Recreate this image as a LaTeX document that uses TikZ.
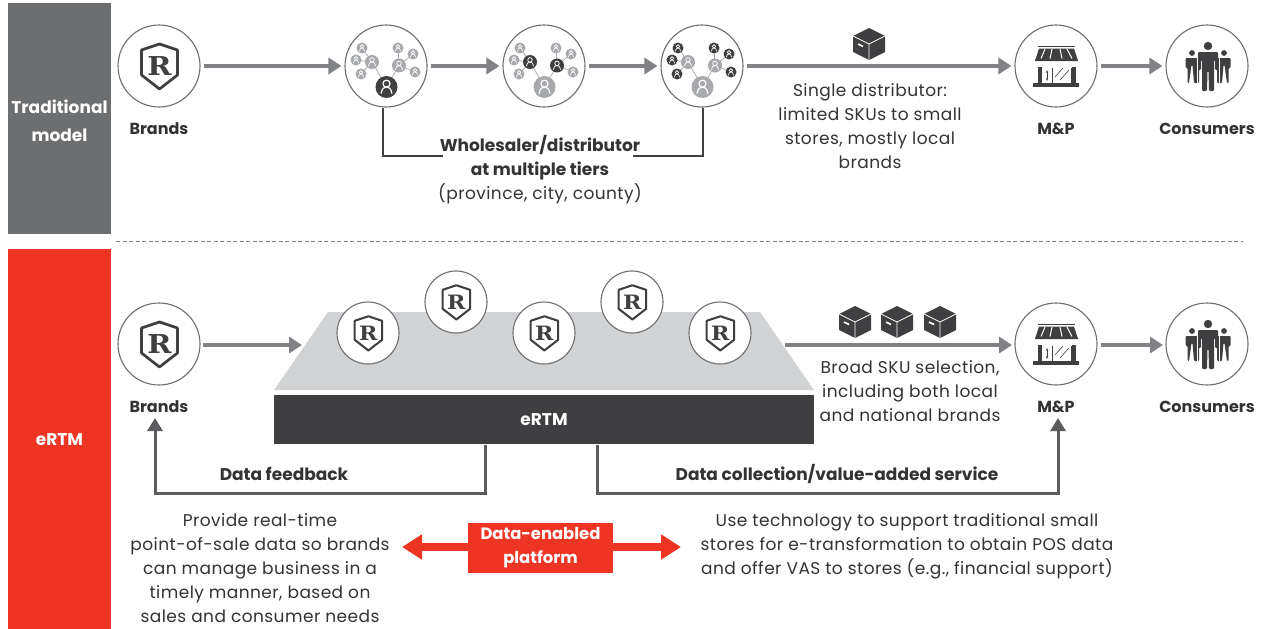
\documentclass[tikz,border=0pt]{standalone}
\usepackage{fontspec}
\setmainfont{Poppins}
\newfontfamily\rlogo{DejaVu Serif}
\newfontfamily\bodyfont[LetterSpace=2.6]{Poppins}
\usetikzlibrary{arrows.meta}
\definecolor{bandgrey}{HTML}{6D6E70}
\definecolor{bandred}{HTML}{EE3524}
\definecolor{arrowgrey}{HTML}{808285}
\definecolor{ink}{HTML}{3F3F41}
\definecolor{lightg}{HTML}{A7A9AC}
\definecolor{platg}{HTML}{D1D3D4}
\definecolor{txt}{HTML}{333335}
\tikzset{
  x=1pt,y=-1pt,
  band/.style={draw=none,fill=#1,minimum width=103pt,text=white,font=\fontsize{17}{28}\selectfont\bfseries,align=center,inner sep=0pt},
  ring/.style={circle,draw=arrowgrey!85!black,line width=1.1pt,fill=white,inner sep=0pt,minimum size=#1},
  flow/.style={draw=arrowgrey,line width=3.6pt,-{Triangle[length=13pt,width=16pt]}},
  feed/.style={draw=ink!85,line width=3pt,-{Triangle[length=13pt,width=15pt]}},
  brack/.style={draw=ink,line width=1.1pt},
  head/.style={font=\fontsize{17}{24}\selectfont\bfseries,text=txt,inner sep=0pt,align=center},
  lab/.style={font=\fontsize{16}{24}\selectfont\bfseries,text=txt,inner sep=0pt,align=center},
  body/.style={font=\bodyfont\fontsize{17}{24}\selectfont,text=txt,inner sep=0pt,align=center},
}
% shield logo: centre x, y, scale
\newcommand{\shieldlogo}[3]{%
  \begin{scope}[shift={(#1,#2)},scale=#3,transform shape]
    \draw[ink,line width=#3*2.7pt,line join=round,fill=white]
      (.5,-22)--(18.5,-16)--(18.5,9)--(.5,23)--(-17.5,9)--(-17.5,-16)--cycle;
    \node[inner sep=0pt,text=ink,xscale=1.12,font=\rlogo\bfseries\fontsize{26}{26}\selectfont] at (.5,0) {R};
  \end{scope}}
% small person in a network bubble
\newcommand{\bub}[4]{%
  \fill[#4] (#1,#2) circle[radius=#3];
  \begin{scope}[shift={(#1,#2)},scale=#3/10]
    \draw[white,line width=#3*0.11pt] (0,-3) circle[radius=3.2];
    \draw[white,line width=#3*0.11pt] (-5,6) .. controls (-4,1) and (-2,0) .. (0,0) .. controls (2,0) and (4,1) .. (5,6);
  \end{scope}}
% network icon: cx, cy, big, mid, small colours
\newcommand{\neticon}[5]{%
  \begin{scope}[shift={(#1,#2)}]
    \draw[lightg,line width=.7pt] (.5,21)--(-14,-4) (.5,21)--(13,-.5)
      (-14,-4)--(-24,-18) (-14,-4)--(-30,-6) (-14,-4)--(-25,8)
      (13,-.5)--(12,-18) (13,-.5)--(27,-12) (13,-.5)--(29,6);
    \bub{.5}{21}{11}{#3}
    \bub{-14}{-4}{7}{#4}\bub{13}{-.5}{7}{#4}
    \bub{-24}{-18}{5.5}{#5}\bub{-30}{-6}{5.5}{#5}\bub{-25}{8}{5.5}{#5}
    \bub{12}{-18}{5.5}{#5}\bub{27}{-12}{5.5}{#5}\bub{29}{6}{5.5}{#5}
  \end{scope}}
% carton icon
\newcommand{\cartonicon}[2]{%
  \begin{scope}[shift={(#1,#2)}]
    \fill[ink,line join=round] (0,-16)--(16,-8)--(16,8)--(0,16)--(-16,8)--(-16,-8)--cycle;
    \draw[white,line width=.8pt] (-16,-8)--(0,0)--(16,-8) (0,0)--(0,16);
    \draw[white,line width=1.6pt] (-11,0)--(-6,2.5);
  \end{scope}}
% store icon
\newcommand{\storeicon}[2]{%
  \begin{scope}[shift={(#1,#2)}]
    \draw[ink,line width=1.3pt] (-18,-19.5)--(19,-19.5);
    \fill[ink] (-17,-17.5)--(18,-17.5)--(22,-5)--(-21,-5)--cycle;
    \foreach \a in {-21,-12.4,-3.8,4.8,13.4}{\fill[ink] (\a,-5.2) arc[start angle=180,end angle=360,radius=4.3] --cycle;}
    \foreach \a/\b in {-11/-15,-4/-6,4/6,11/16}{\draw[white,line width=1pt] (\a,-17)--(\b,-7.5);}
    \draw[ink,line width=3.6pt] (-16,1)--(-16,18) (18,1)--(18,18);
    \draw[ink,line width=1pt] (-4,2)--(-4,18) (15,2)--(15,18);
    \draw[ink,line width=.9pt,{Stealth[length=3pt]}-{Stealth[length=3pt]}] (-9,4)--(-9,15);
    \draw[ink,line width=.6pt] (-1,11)--(7,2) (4,14)--(13,4);
    \fill[ink] (-23,17) rectangle (23,21);
  \end{scope}}
% people icon
\newcommand{\peopleicon}[2]{%
  \begin{scope}[shift={(#1+1,#2)}]
    \foreach \s in {-1,1}{
      \fill[ink] (\s*16,-13) circle[radius=2.9];
      \fill[ink,rounded corners=1pt] (\s*22.5,-8)--(\s*9,-8)--(\s*9,17)--(\s*14,17)--(\s*15.5,-1)--(\s*16.5,-1)--(\s*19,17)--(\s*20.5,17)--(\s*20.5,2)--(\s*22.5,2)--cycle;
    }
    \draw[white,line width=1pt] (-11,-10)--(-11,18) (11,-10)--(11,18);
    \fill[ink] (0,-20) circle[radius=4.2];
    \fill[ink,rounded corners=1.2pt] (-10,-14)--(10,-14)--(10,4)--(7,4)--(7,-6)--(6,-6)--(6,25)--(1,25)--(.5,5)--(-.5,5)--(-1,25)--(-6,25)--(-6,-6)--(-7,-6)--(-7,4)--(-10,4)--cycle;
  \end{scope}}
\begin{document}
\begin{tikzpicture}
\useasboundingbox (0,0) rectangle (1264,629);
\fill[white] (0,0) rectangle (1264,629);
% bands
\node[band=bandgrey,minimum height=231pt] (tradband) at (59.5,118.5) {};
\node[band=bandred,minimum height=380pt] (ertmband) at (59.5,439) {};
\node[inner sep=0pt,text=white,font=\fontsize{17}{24}\selectfont\bfseries] (ertmlabel) at (59.5,440) {eRTM};
\node[inner sep=0pt,text=white,align=center,font=\fontsize{17}{28}\selectfont\bfseries] (tradlabel) at (59.5,121) {Traditional\\model};
\coordinate (dashl) at (116,241.5); \coordinate (dashr) at (1243,241.5);
\draw[arrowgrey,line width=.7pt,dash pattern=on 4pt off 2.5pt] (dashl)--(dashr);
% top row
\node[ring=82pt] (brandA) at (159,66) {};
\node[ring=82pt] (netA) at (386,66) {};
\node[ring=82pt] (netB) at (544,66) {};
\node[ring=82pt] (netC) at (702,66) {};
\node[ring=82pt] (mpA) at (1056,66) {};
\node[ring=82pt] (conA) at (1207,66) {};
\shieldlogo{159}{66}{1}
\neticon{386}{66}{ink}{lightg}{lightg}
\neticon{544}{66}{lightg}{ink}{lightg}
\neticon{702}{66}{lightg}{lightg}{ink}
\storeicon{1056}{66}
\peopleicon{1207}{66}
\draw[flow,shorten >=3pt] (brandA.east)++(3,0)--(netA.west);
\draw[flow,shorten >=3pt] (netA.east)++(3,0)--(netB.west);
\draw[flow,shorten >=3pt] (netB.east)++(3,0)--(netC.west);
\draw[flow,shorten >=3pt] (netC.east)++(3,0)--(mpA.west);
\draw[flow,shorten >=3pt] (mpA.east)++(3,0)--(conA.west);
\node[lab] (brandAl) at (159,128.5) {Brands};
\node[lab] (mpAl) at (1056,128.5) {M\&P};
\node[lab] (conAl) at (1207,128.5) {Consumers};
\node[head] (whole) at (540,158) {Wholesaler/distributor\\at multiple tiers};
\node[body] (prov) at (540,194) {(province, city, county)};
\coordinate (brL) at (443,156); \coordinate (brR) at (633,156);
\draw[brack] (383,108) |- (brL);
\draw[brack] (703,108) |- (brR);
\cartonicon{869}{44}
\node[body] (single) at (870,126) {Single distributor:\\limited SKUs to small\\stores, mostly local\\brands};
% bottom row
\fill[platg] (328,312)--(760,312)--(814,390)--(274,390)--cycle;
\node[draw=none,fill=ink,minimum width=540pt,minimum height=49pt,inner sep=0pt,text=white,font=\fontsize{17}{24}\selectfont\bfseries] (ertm) at (544,419.5) {eRTM};
\node[ring=82pt] (brandB) at (159,344) {};
\shieldlogo{159}{344}{1}
\foreach \n/\a/\b in {pA/368/333,pB/456/302,pC/544/333,pD/632/302,pE/720/333}{
  \node[ring=62pt] (\n) at (\a,\b) {};
  \shieldlogo{\a}{\b}{.76}
}
\node[ring=82pt] (mpB) at (1056,344) {};
\node[ring=82pt] (conB) at (1207,344) {};
\storeicon{1056}{344}
\peopleicon{1207}{344}
\coordinate (platin) at (302,345);
\coordinate (platout) at (785,345);
\coordinate (conBin) at (1163,345);
\coordinate (mpBin) at (1012,345);
\coordinate (mpBout) at (1101,345);
\coordinate (brBout) at (203,345);
\draw[flow] (brBout)--(platin);
\draw[flow] (platout)--(mpBin);
\draw[flow] (mpBout)--(conBin);
\cartonicon{855}{322}\cartonicon{897}{322}\cartonicon{940}{322}
\node[body] (broad) at (910,391) {Broad SKU selection,\\including both local\\and national brands};
\node[lab] (brandBl) at (159,406.5) {Brands};
\node[lab] (mpBl) at (1056,406.5) {M\&P};
\node[lab] (conBl) at (1207,406.5) {Consumers};
\coordinate (fbA) at (485,445); \coordinate (fbB) at (597,445);
\draw[feed] (fbA)--(485,493)--(155,493)--(155,418);
\draw[feed] (fbB)--(597,493)--(1058,493)--(1058,418);
\node[head] (dfb) at (284,474) {Data feedback};
\node[head] (dcol) at (837,474) {Data collection/value-added service};
% platform
\coordinate (redL) at (402,547); \coordinate (redR) at (681,547);
\draw[bandred,line width=8pt,{Triangle[length=20pt,width=24pt]}-{Triangle[length=20pt,width=24pt]}] (redL)--(redR);
\node[fill=bandred,minimum width=145pt,minimum height=50pt,inner sep=0pt,text=white,align=center,font=\fontsize{16.4}{24}\selectfont\bfseries] (plat) at (540.5,548) {Data-enabled\\platform};
\node[body] (leftt) at (260,568) {Provide real-time\\point-of-sale data so brands\\can manage business in a\\timely manner, based on\\sales and consumer needs};
\node[body] (rightt) at (907,546) {Use technology to support traditional small\\stores for e-transformation to obtain POS data\\and offer VAS to stores (e.g., financial support)};
\end{tikzpicture}
\end{document}
